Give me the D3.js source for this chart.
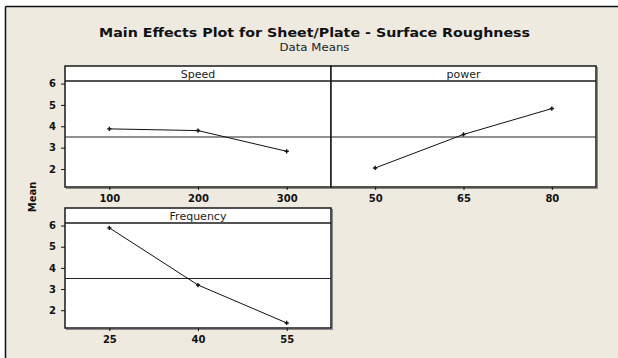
<!DOCTYPE html>
<html><head><meta charset="utf-8">
<script src="https://cdn.jsdelivr.net/npm/d3@7"></script>
<style>
html,body{margin:0;padding:0;background:#fff;}
svg{display:block;}
text{font-family:"DejaVu Sans",Verdana,sans-serif;}
</style></head>
<body>
<svg id="chart" width="618" height="358"></svg>
<script>
// ---- data ----
const speedLevels = ["100", "200", "300"];
const speedMeans  = [3.88, 3.80, 2.83];
const powerLevels = ["50", "65", "80"];
const powerMeans  = [2.05, 3.62, 4.83];
const freqLevels  = ["25", "40", "55"];
const freqMeans   = [5.89, 3.19, 1.40];
const yTicks      = [2, 3, 4, 5, 6];
const panelNames  = ["Speed", "power", "Frequency"];
const titleText    = "Main Effects Plot for Sheet/Plate - Surface Roughness";
const subtitleText = "Data Means";
const yLabel       = "Mean";

const grandMean = d3.mean(speedMeans.concat(powerMeans, freqMeans));

const svg = d3.select("#chart");
const W = 618, H = 358;

// background
svg.append("rect").attr("x",0).attr("y",0).attr("width",W).attr("height",H).attr("fill","#ffffff");
svg.append("rect").attr("x",6).attr("y",7).attr("width",W).attr("height",H).attr("fill","#eeeae0");
svg.append("line").attr("x1",5.5).attr("x2",W).attr("y1",6.5).attr("y2",6.5).attr("stroke","#111").attr("stroke-width",1.5);
svg.append("line").attr("x1",5.5).attr("x2",5.5).attr("y1",6.5).attr("y2",H).attr("stroke","#111").attr("stroke-width",1.5);

// titles
svg.append("text").attr("x",314.5).attr("y",37).attr("text-anchor","middle")
   .attr("font-weight","bold").attr("font-size",12.5).attr("fill","#111")
   .attr("textLength",431).attr("lengthAdjust","spacingAndGlyphs").text(titleText);
svg.append("text").attr("x",314.5).attr("y",51).attr("text-anchor","middle")
   .attr("font-size",10.5).attr("fill","#222")
   .attr("textLength",70).attr("lengthAdjust","spacingAndGlyphs").text(subtitleText);

svg.append("text").attr("transform","translate(36,197) rotate(-90)").attr("text-anchor","middle")
   .attr("font-weight","bold").attr("font-size",10).attr("fill","#111").text(yLabel);

const yDomain = [1.16, 6.12];
const stripH = 15;

const panels = [
  {name: panelNames[0], levels: speedLevels, means: speedMeans, x0: 65,  x1: 331, y0: 66,  y1: 187, yAxis: true},
  {name: panelNames[1], levels: powerLevels, means: powerMeans, x0: 331, x1: 596, y0: 66,  y1: 187, yAxis: false},
  {name: panelNames[2], levels: freqLevels,  means: freqMeans,  x0: 65,  x1: 331, y0: 208, y1: 328, yAxis: true}
];

panels.forEach(p => {
  const g = svg.append("g");
  const plotTop = p.y0 + stripH;
  const x = d3.scalePoint().domain(p.levels).range([p.x0, p.x1]).padding(0.5);
  const y = d3.scaleLinear().domain(yDomain).range([p.y1, plotTop]);

  // panel background (shadow + white)
  g.append("rect").attr("x",p.x0+1.5).attr("y",p.y0+1.5).attr("width",p.x1-p.x0).attr("height",p.y1-p.y0)
   .attr("fill","none").attr("stroke","#888").attr("stroke-width",1);
  g.append("rect").attr("x",p.x0).attr("y",p.y0).attr("width",p.x1-p.x0).attr("height",p.y1-p.y0)
   .attr("fill","#fff").attr("stroke","#1a1a1a").attr("stroke-width",1.5);
  // strip line
  g.append("line").attr("x1",p.x0).attr("x2",p.x1).attr("y1",plotTop).attr("y2",plotTop)
   .attr("stroke","#1a1a1a").attr("stroke-width",1.3);
  g.append("text").attr("x",(p.x0+p.x1)/2).attr("y",p.y0+11.5).attr("text-anchor","middle")
   .attr("font-size",11).attr("fill","#222").text(p.name);

  // reference line
  g.append("line").attr("x1",p.x0).attr("x2",p.x1).attr("y1",y(grandMean)).attr("y2",y(grandMean))
   .attr("stroke","#222").attr("stroke-width",1.2);

  // data line
  const pts = p.levels.map((l,i) => [x(l), y(p.means[i])]);
  g.append("path").attr("d", d3.line()(pts)).attr("fill","none").attr("stroke","#111").attr("stroke-width",1);
  g.selectAll("path.sym").data(pts).join("path").attr("class","sym")
   .attr("transform", d => `translate(${d[0]},${d[1]})`)
   .attr("d", d3.symbol().type(d3.symbolCross).size(10)).attr("fill","#111");

  // x axis
  const xa = g.append("g").attr("transform",`translate(0,${p.y1})`)
    .call(d3.axisBottom(x).tickSize(3).tickSizeOuter(0).tickPadding(5));
  xa.select(".domain").remove();
  xa.selectAll("text").attr("font-size",10).attr("font-weight","bold").attr("fill","#111")
    .attr("font-family","DejaVu Sans, sans-serif");
  xa.selectAll("line").attr("stroke","#111");

  if (p.yAxis) {
    const ya = g.append("g").attr("transform",`translate(${p.x0},0)`)
      .call(d3.axisLeft(y).tickValues(yTicks).tickFormat(d3.format("d")).tickSize(4).tickPadding(5));
    ya.select(".domain").remove();
    ya.selectAll("text").attr("font-size",10).attr("font-weight","bold").attr("fill","#111")
      .attr("font-family","DejaVu Sans, sans-serif");
    ya.selectAll("line").attr("stroke","#111");
  }
});
</script>
</body></html>
